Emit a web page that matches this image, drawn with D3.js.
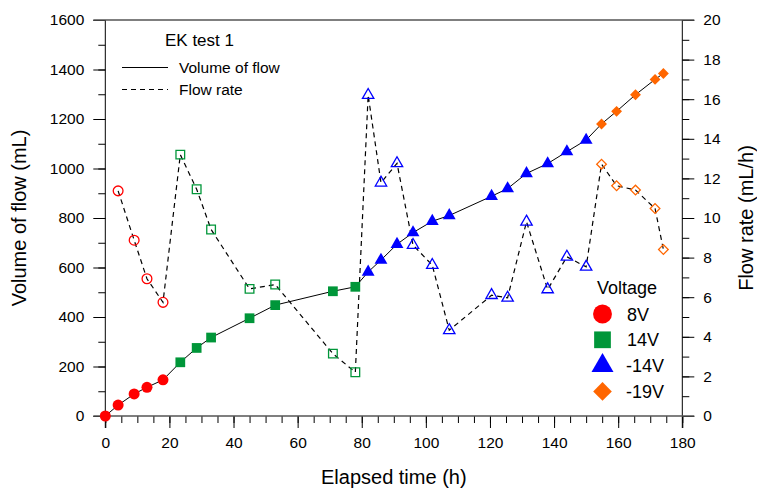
<!DOCTYPE html>
<html>
<head>
<meta charset="utf-8">
<script src="https://cdn.jsdelivr.net/npm/d3@7"></script>
<style>
body { margin: 0; background: #fff; }
svg { font-family: Arial, "Liberation Sans", sans-serif; }
</style>
</head>
<body>
<div id="chart"></div>
<script>
//--------------------------------- data ---------------------------------
var voltages = ["8V", "14V", "-14V", "-19V"];
var colors = ["#ff0000", "#009639", "#0000ff", "#ff6600"];

var time8 = [0, 4, 9, 13, 18];
var vol8 = [0, 44, 89, 116, 146];
var rate8 = [null, 11.37, 8.88, 6.93, 5.74];

var time14 = [23.4, 28.5, 33, 45, 53, 71, 78];
var vol14 = [217, 275, 317, 395, 448, 504, 522];
var rate14 = [13.2, 11.45, 9.42, 6.42, 6.64, 3.15, 2.21];

var timeM14 = [82, 86, 91, 96, 102, 107.3, 120.5, 125.5, 131.4, 138, 144, 150];
var volM14 = [582, 630, 694, 741, 787, 810, 888, 919, 980, 1020, 1068, 1115];
var rateM14 = [16.21, 11.78, 12.76, 8.63, 7.62, 4.33, 6.10, 5.97, 9.81, 6.39, 8.04, 7.53];

var timeM19 = [154.8, 159.5, 165.4, 171.5, 174.1];
var volM19 = [1180, 1231, 1298, 1360, 1384];
var rateM19 = [12.72, 11.63, 11.41, 10.48, 8.41];

var xTicks = [0, 20, 40, 60, 80, 100, 120, 140, 160, 180];
var yLeftTicks = [0, 200, 400, 600, 800, 1000, 1200, 1400, 1600];
var yRightTicks = [0, 2, 4, 6, 8, 10, 12, 14, 16, 18, 20];

//--------------------------------- set up ---------------------------------
var W = 757, H = 489;
var margin = {top: 20, right: 74.7, bottom: 73, left: 105.3};

var svg = d3.select("#chart").append("svg")
	.attr("width", W)
	.attr("height", H);

var x = d3.scaleLinear().domain([0, 180]).range([margin.left, W - margin.right]);
var yL = d3.scaleLinear().domain([0, 1600]).range([H - margin.bottom, margin.top]);
var yR = d3.scaleLinear().domain([0, 20]).range([H - margin.bottom, margin.top]);

//build point lists from the arrays
var groups = [
	{t: time8, v: vol8, r: rate8},
	{t: time14, v: vol14, r: rate14},
	{t: timeM14, v: volM14, r: rateM14},
	{t: timeM19, v: volM19, r: rateM19}
];
var points = [];
groups.forEach(function(g, gi) {
	g.t.forEach(function(t, i) {
		points.push({g: gi, t: t, v: g.v[i], r: g.r[i]});
	});
});

//--------------------------------- axes ---------------------------------
var x0 = x(0), x1 = x(180), yb = yL(0), yt = yL(1600);
var fmt = d3.format("d");

svg.append("g").attr("class", "axis")
	.attr("transform", "translate(0," + yb + ")")
	.call(d3.axisBottom(x).tickValues(d3.range(0, 181, 5)).tickSize(7).tickFormat(""));
svg.append("g").attr("class", "axis")
	.attr("transform", "translate(0," + yb + ")")
	.call(d3.axisBottom(x).tickValues(xTicks).tickSize(12).tickPadding(9).tickFormat(fmt));

svg.append("g").attr("class", "axis")
	.attr("transform", "translate(" + x0 + ",0)")
	.call(d3.axisLeft(yL).tickValues(d3.range(0, 1601, 100)).tickSize(7).tickFormat(""));
svg.append("g").attr("class", "axis")
	.attr("transform", "translate(" + x0 + ",0)")
	.call(d3.axisLeft(yL).tickValues(yLeftTicks).tickSize(12).tickPadding(9).tickFormat(fmt));

svg.append("g").attr("class", "axis")
	.attr("transform", "translate(" + x1 + ",0)")
	.call(d3.axisRight(yR).tickValues(d3.range(0, 21, 1)).tickSize(7).tickFormat(""));
svg.append("g").attr("class", "axis")
	.attr("transform", "translate(" + x1 + ",0)")
	.call(d3.axisRight(yR).tickValues(yRightTicks).tickSize(12).tickPadding(9).tickFormat(fmt));

svg.selectAll(".axis .domain").remove();
svg.selectAll(".axis line").attr("stroke", "#000").attr("stroke-width", 1);
svg.selectAll(".axis text").attr("font-size", 15.5).attr("fill", "#000")
	.attr("font-family", 'Arial, "Liberation Sans", sans-serif');

//frame
svg.append("line").attr("x1", x0).attr("x2", x0).attr("y1", yt).attr("y2", yb + 12).attr("stroke", "#000");
svg.append("line").attr("x1", x1).attr("x2", x1).attr("y1", yt).attr("y2", yb + 12).attr("stroke", "#000");
svg.append("line").attr("x1", x0 - 12).attr("x2", x1 + 12).attr("y1", yt).attr("y2", yt).attr("stroke", "#555").attr("stroke-width", 1.5);
svg.append("line").attr("x1", x0 - 12).attr("x2", x1 + 12).attr("y1", yb).attr("y2", yb).attr("stroke", "#555").attr("stroke-width", 1.5);

//axis titles
svg.append("text")
	.attr("x", (x0 + x1) / 2).attr("y", 484)
	.attr("text-anchor", "middle").attr("font-size", 20)
	.text("Elapsed time (h)");
svg.append("text")
	.attr("transform", "translate(26," + ((yt + yb) / 2) + ") rotate(-90)")
	.attr("text-anchor", "middle").attr("font-size", 20)
	.text("Volume of flow (mL)");
svg.append("text")
	.attr("transform", "translate(752.5," + ((yt + yb) / 2) + ") rotate(-90)")
	.attr("text-anchor", "middle").attr("font-size", 20)
	.text("Flow rate (mL/h)");

//--------------------------------- lines ---------------------------------
var volLine = d3.line().x(function(d) { return x(d.t); }).y(function(d) { return yL(d.v); });
var rateLine = d3.line().x(function(d) { return x(d.t); }).y(function(d) { return yR(d.r); });
var ratePts = points.filter(function(d) { return d.r != null; });

svg.append("path").attr("d", volLine(points))
	.attr("fill", "none").attr("stroke", "#000").attr("stroke-width", 1);
svg.append("path").attr("d", rateLine(ratePts))
	.attr("fill", "none").attr("stroke", "#000").attr("stroke-width", 1.2)
	.attr("stroke-dasharray", "5,4");

//--------------------------------- markers ---------------------------------
var symTypes = [d3.symbolCircle, d3.symbolSquare, d3.symbolTriangle, d3.symbolSquare];
var symRot = [0, 0, 0, 45];
function sym(gi, size) {
	return d3.symbol().type(symTypes[gi]).size(gi == 3 ? size * 0.62 : (gi == 2 ? size * 0.75 : size))();
}

svg.selectAll(".volPt").data(points).enter().append("path")
	.attr("class", "volPt")
	.attr("transform", function(d) { return "translate(" + x(d.t) + "," + yL(d.v) + ") rotate(" + symRot[d.g] + ")"; })
	.attr("d", function(d) { return sym(d.g, 95); })
	.attr("fill", function(d) { return colors[d.g]; });

svg.selectAll(".ratePt").data(ratePts).enter().append("path")
	.attr("class", "ratePt")
	.attr("transform", function(d) { return "translate(" + x(d.t) + "," + yR(d.r) + ") rotate(" + symRot[d.g] + ")"; })
	.attr("d", function(d) { return sym(d.g, 75); })
	.attr("fill", "none")
	.attr("stroke-width", 1.3)
	.attr("stroke", function(d) { return colors[d.g]; });

//--------------------------------- legends ---------------------------------
svg.append("text").attr("x", 165).attr("y", 46).attr("font-size", 17).text("EK test 1");
svg.append("line").attr("x1", 122).attr("x2", 168).attr("y1", 67.5).attr("y2", 67.5)
	.attr("stroke", "#000").attr("stroke-width", 1);
svg.append("text").attr("x", 179).attr("y", 73).attr("font-size", 15.5).text("Volume of flow");
svg.append("line").attr("x1", 122).attr("x2", 168).attr("y1", 89.5).attr("y2", 89.5)
	.attr("stroke", "#000").attr("stroke-width", 1.2).attr("stroke-dasharray", "5,4");
svg.append("text").attr("x", 179).attr("y", 95).attr("font-size", 15.5).text("Flow rate");

var legend = svg.append("g").attr("transform", "translate(597,0)");
legend.append("text").attr("x", 0).attr("y", 294).attr("font-size", 18).text("Voltage");
var leg = legend.selectAll(".leg").data(voltages).enter().append("g")
	.attr("transform", function(d, i) { return "translate(0," + (314 + i * 25.8) + ")"; });
leg.append("path")
	.attr("transform", function(d, i) { return "translate(5.5,0) rotate(" + symRot[i] + ")"; })
	.attr("d", function(d, i) { return sym(i, 280); })
	.attr("fill", function(d, i) { return colors[i]; });
leg.append("text").attr("x", function(d) { return d.charAt(0) == "-" ? 29 : 30; })
	.attr("y", 6.5).attr("font-size", 18).text(function(d) { return d; });
</script>
</body>
</html>
